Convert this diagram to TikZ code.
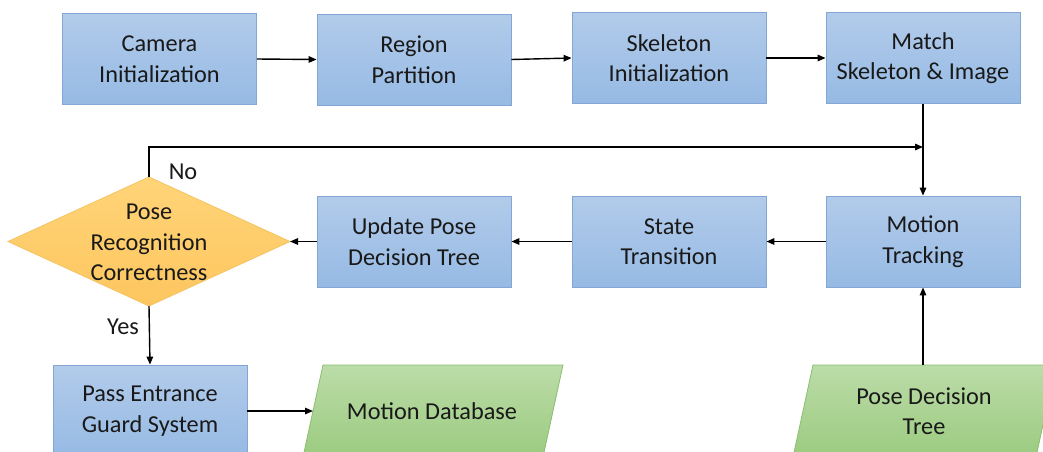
\documentclass[tikz,border=0pt]{standalone}
\usepackage{fontspec}
\setmainfont{Carlito}
\usetikzlibrary{arrows.meta}
\definecolor{bluetop}{RGB}{178,203,234}
\definecolor{bluebot}{RGB}{150,186,228}
\definecolor{blueline}{RGB}{132,166,210}
\definecolor{yeltop}{RGB}{255,212,120}
\definecolor{yelbot}{RGB}{253,198,95}
\definecolor{yelline}{RGB}{245,196,100}
\definecolor{greentop}{RGB}{187,220,168}
\definecolor{greenbot}{RGB}{156,203,128}
\definecolor{greenline}{RGB}{140,190,112}
\tikzset{
  txt/.style={font=\fontsize{24.3}{30.5}\selectfont, align=center, text=black!90},
  proc/.style={txt, rectangle, draw=blueline, line width=0.8pt, top color=bluetop, bottom color=bluebot,
    minimum width=194pt, minimum height=91pt, inner sep=0pt},
  datashape/.style={draw=greenline, line width=0.8pt, top color=greentop, bottom color=greenbot},
  decshape/.style={draw=yelline, line width=0.8pt, top color=yeltop, bottom color=yelbot},
  arr/.style={line width=1.4pt, -{Triangle[length=8pt,width=6.5pt]}},
  lbl/.style={font=\fontsize{24.3}{30.5}\selectfont, text=black!90}
}
\begin{document}
\begin{tikzpicture}[x=1pt,y=-1pt]
\useasboundingbox (0,0) rectangle (1043,451);
\clip (0,0) rectangle (1043,451);
\fill[white] (0,0) rectangle (1043,451);

% top row
\node[proc] (cam) at (159.5,59) {Camera\\Initialization};
\node[proc] (reg) at (414,59.5) {Region\\Partition};
\node[proc] (ske) at (669,58) {Skeleton\\Initialization};
\node[proc] (mat) at (923,58) {Match\\Skeleton \& Image};

% middle row
\node[proc] (mot) at (923,241.5) {Motion\\Tracking};
\node[proc] (sta) at (669,241.5) {State\\Transition};
\node[proc] (upd) at (414,241.5) {Update Pose\\Decision Tree};

% decision diamond
\path[decshape] (8,241.5) -- (149,177) -- (290,241.5) -- (149,306) -- cycle;
\coordinate (diaL) at (8,241.5);
\coordinate (diaT) at (149,177);
\coordinate (diaR) at (290,241.5);
\coordinate (diaB) at (149,306);
\node[txt] (dia) at (149,242.5) {Pose\\Recognition\\Correctness};

% bottom row
\node[proc, minimum height=92pt] (pas) at (150,411) {Pass Entrance\\Guard System};
\path[datashape] (323,365) -- (563,365) -- (543,457) -- (303,457) -- cycle;
\node[txt] (mdb) at (432,411) {Motion Database};
\coordinate (mdbL) at (313,411);
\path[datashape] (813,365) -- (1056,365) -- (1036,457) -- (793,457) -- cycle;
\node[txt] (pdt) at (924,411) {Pose Decision\\Tree};
\coordinate (pdtT) at (923,365);

% connectors
\draw[arr] (cam.east) -- (reg.west);
\draw[arr] (reg.east) -- (ske.west);
\draw[arr] (ske.east) -- (mat.west);
\draw[arr] (mat.south) -- (mot.north);
\draw[arr] (mot.west) -- (sta.east);
\draw[arr] (sta.west) -- (upd.east);
\draw[arr] (upd.west) -- (diaR);
\coordinate (fb) at (923,147);
\draw[arr] (diaT) |- (fb);
\draw[arr] (diaB) -- (pas.north);
\draw[arr] (pas.east) -- (mdbL);
\draw[arr] (pdtT) -- (mot.south);

% labels
\node[lbl] (no) at (183,172) {No};
\node[lbl] (yes) at (123,327) {Yes};
\end{tikzpicture}
\end{document}
